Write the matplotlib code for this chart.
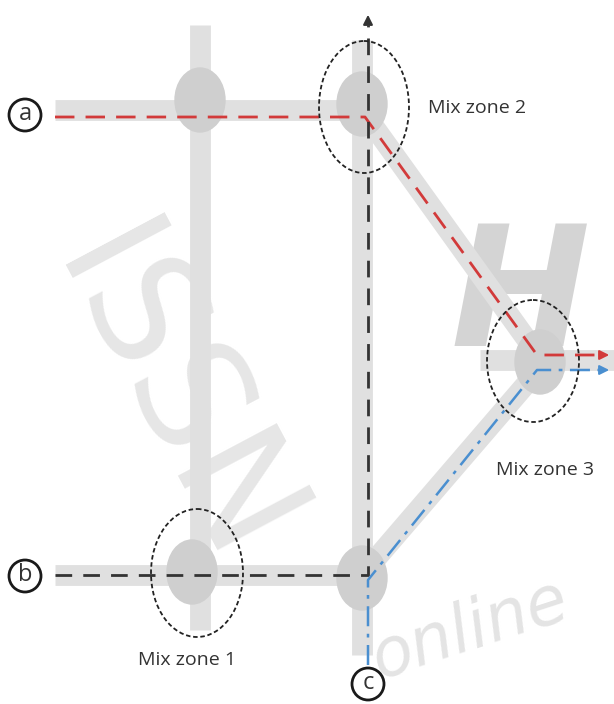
import matplotlib.pyplot as plt
from matplotlib.patches import Ellipse, Circle

# road segments (gray bands), pixel coords of the diagram
road_x = [[55, 365], [200, 200], [362, 362], [362, 540], [55, 362], [362, 540], [480, 614]]
road_y = [[110, 110], [25, 630], [40, 655], [110, 358], [575, 575], [575, 368], [360, 360]]

# junction blobs
node_x = [200, 362, 540, 192, 362]
node_y = [100, 104, 362, 572, 578]

# mix zones
zone_labels = ['Mix zone 1', 'Mix zone 2', 'Mix zone 3']
zone_x = [197, 364, 533]
zone_y = [573, 107, 361]
zone_w = [92, 90, 92]
zone_h = [128, 132, 122]
label_x = [138, 428, 496]
label_y = [660, 108, 470]

# vehicle paths
red_x = [55, 365, 537, 600]
red_y = [117, 117, 355, 355]
black_x = [55, 366, 368, 368]
black_y = [575, 575, 575, 25]
blue_x = [368, 368, 537, 600]
blue_y = [665, 580, 370, 370]

entry_labels = ['a', 'b', 'c']
entry_x = [25, 25, 368]
entry_y = [115, 576, 684]

fig = plt.figure(figsize=(6.14, 7.04), dpi=100)
ax = fig.add_axes([0, 0, 1, 1])
ax.set_xlim(0, 614)
ax.set_ylim(704, 0)
ax.axis('off')

# watermark bits
ax.text(170, 400, 'ISSN', fontsize=110, color='#e6e6e6', rotation=-62,
        ha='center', va='center', zorder=0)
ax.text(470, 630, 'online', fontsize=48, color='#e4e4e4', rotation=18,
        ha='center', va='center', zorder=0, style='italic')
ax.text(520, 300, 'H', fontsize=120, color='#d4d4d4', ha='center', va='center',
        zorder=0, style='italic', fontweight='bold')

for xs, ys in zip(road_x, road_y):
    ax.plot(xs, ys, color='#e0e0e0', lw=15, solid_capstyle='butt', zorder=1)

for x, y in zip(node_x, node_y):
    ax.add_patch(Ellipse((x, y), 50, 64, color='#cfcfcf', zorder=2))

ax.plot(red_x, red_y, color='#d23a3a', lw=2, dashes=(7, 4), zorder=4)
ax.plot(black_x, black_y, color='#333333', lw=2, dashes=(6, 4), zorder=4)
ax.plot(blue_x, blue_y, color='#4a8fd0', lw=1.8, dashes=(8, 3, 1.5, 3), zorder=4)

ax.annotate('', xy=(612, red_y[-1]), xytext=(red_x[-1], red_y[-1]),
            arrowprops=dict(arrowstyle='-|>', color='#d23a3a', lw=1.5, mutation_scale=14), zorder=5)
ax.annotate('', xy=(612, blue_y[-1]), xytext=(blue_x[-1], blue_y[-1]),
            arrowprops=dict(arrowstyle='-|>', color='#4a8fd0', lw=1.5, mutation_scale=14), zorder=5)
ax.annotate('', xy=(black_x[-1], 12), xytext=(black_x[-1], black_y[-1]),
            arrowprops=dict(arrowstyle='-|>', color='#333333', lw=1.5, mutation_scale=14), zorder=5)

for x, y, w, h, lab, lx, ly in zip(zone_x, zone_y, zone_w, zone_h, zone_labels, label_x, label_y):
    ax.add_patch(Ellipse((x, y), w, h, fill=False, ec='#222222', lw=1.3,
                         ls=(0, (2.5, 1.5)), zorder=6))
    ax.text(lx, ly, lab, fontsize=14, color='#333333', va='center', ha='left',
            family='Open Sans', zorder=7)

for lab, x, y in zip(entry_labels, entry_x, entry_y):
    ax.add_patch(Circle((x, y), 16, fill=False, ec='#1a1a1a', lw=2, zorder=7))
    ax.text(x, y - 1, lab, fontsize=17, color='#333333', ha='center', va='center',
            family='Open Sans', zorder=8)

fig.savefig('out.png', dpi=100)
